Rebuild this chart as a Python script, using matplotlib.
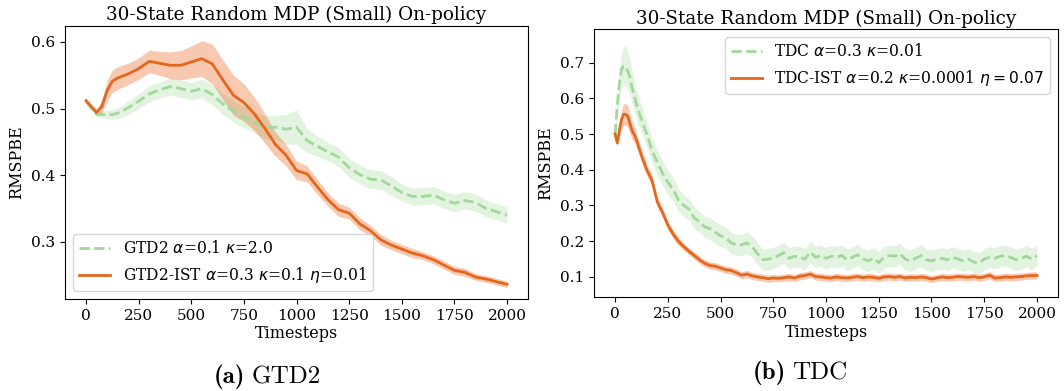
import numpy as np
import matplotlib
matplotlib.use("Agg")
from matplotlib import pyplot as plt

plt.rcParams['font.family'] = 'DejaVu Serif'
plt.rcParams['mathtext.fontset'] = 'dejavusans'

# (a) GTD2 panel
t_left = [0, 25, 50, 75, 100, 125, 150] + list(range(200, 2001, 50))
gtd2 = [0.511, 0.500, 0.492, 0.491, 0.491, 0.491, 0.493,
        0.501, 0.511, 0.522, 0.528, 0.533, 0.530, 0.526, 0.530, 0.521, 0.507,
        0.496, 0.487, 0.479, 0.472, 0.472, 0.469, 0.472, 0.452, 0.443, 0.435,
        0.427, 0.411, 0.401, 0.394, 0.393, 0.384, 0.374, 0.368, 0.368, 0.370,
        0.363, 0.358, 0.362, 0.359, 0.350, 0.345, 0.340]
gtd2_sd = [0.002, 0.003, 0.004, 0.005, 0.006, 0.007, 0.008,
           0.010, 0.011, 0.012, 0.012, 0.013, 0.013, 0.013, 0.014, 0.015, 0.016,
           0.016, 0.016, 0.016, 0.017, 0.018, 0.022, 0.026, 0.018, 0.015, 0.014,
           0.014, 0.014, 0.014, 0.014, 0.014, 0.014, 0.013, 0.013, 0.013, 0.013,
           0.013, 0.013, 0.013, 0.013, 0.013, 0.012, 0.012]
gtd2_ist = [0.512, 0.503, 0.494, 0.503, 0.527, 0.541, 0.546,
            0.552, 0.560, 0.571, 0.568, 0.565, 0.565, 0.570, 0.575, 0.567, 0.543,
            0.520, 0.509, 0.492, 0.470, 0.446, 0.430, 0.407, 0.402, 0.382, 0.363,
            0.348, 0.343, 0.327, 0.317, 0.303, 0.295, 0.289, 0.283, 0.279, 0.273,
            0.265, 0.257, 0.254, 0.247, 0.244, 0.240, 0.236]
gtd2_ist_sd = [0.002, 0.004, 0.005, 0.010, 0.015, 0.017, 0.017,
               0.016, 0.016, 0.017, 0.018, 0.020, 0.022, 0.024, 0.027, 0.030, 0.030,
               0.030, 0.028, 0.025, 0.022, 0.018, 0.016, 0.014, 0.012, 0.011, 0.010,
               0.010, 0.009, 0.009, 0.008, 0.008, 0.007, 0.007, 0.007, 0.006, 0.006,
               0.006, 0.006, 0.006, 0.005, 0.005, 0.005, 0.005]

# (b) TDC panel
t_right = list(range(0, 100, 10)) + list(range(100, 2001, 25))
tdc = [0.500, 0.580, 0.640, 0.680, 0.690, 0.690, 0.675, 0.660, 0.630, 0.610,
       0.585, 0.540, 0.500, 0.455, 0.420, 0.390, 0.365, 0.345, 0.315,
       0.300, 0.290, 0.265, 0.255, 0.240, 0.235, 0.225, 0.215, 0.210, 0.195,
       0.190, 0.190, 0.195, 0.185, 0.165, 0.148, 0.150, 0.153, 0.160, 0.168,
       0.152, 0.158, 0.155, 0.150, 0.170, 0.155, 0.160, 0.152, 0.158, 0.155,
       0.160, 0.148, 0.155, 0.162, 0.150, 0.145, 0.152, 0.140, 0.155, 0.160,
       0.158, 0.165, 0.150, 0.145, 0.152, 0.160, 0.148, 0.145, 0.150, 0.152,
       0.148, 0.155, 0.150, 0.145, 0.150, 0.142, 0.138, 0.150, 0.155, 0.152,
       0.158, 0.160, 0.155, 0.148, 0.152, 0.158, 0.150, 0.160]
tdc_sd = ([0.010, 0.030, 0.045, 0.050, 0.055, 0.055, 0.050, 0.050, 0.045, 0.045]
          + [0.040, 0.038, 0.036, 0.035, 0.035, 0.035, 0.034, 0.033, 0.032]
          + [0.030] * 68)
tdc_ist = [0.500, 0.475, 0.510, 0.540, 0.555, 0.555, 0.550, 0.530, 0.510, 0.500,
           0.485, 0.440, 0.400, 0.370, 0.310, 0.280, 0.245, 0.220, 0.200,
           0.185, 0.172, 0.160, 0.148, 0.138, 0.132, 0.130, 0.125, 0.120, 0.118,
           0.112, 0.105, 0.108, 0.103, 0.100, 0.098, 0.095, 0.097, 0.096, 0.098,
           0.100, 0.097, 0.102, 0.104, 0.108, 0.101, 0.100, 0.098, 0.097, 0.100,
           0.098, 0.097, 0.099, 0.101, 0.098, 0.100, 0.099, 0.096, 0.100, 0.101,
           0.099, 0.101, 0.097, 0.099, 0.098, 0.100, 0.098, 0.094, 0.097, 0.100,
           0.098, 0.099, 0.101, 0.100, 0.099, 0.101, 0.098, 0.100, 0.105, 0.097,
           0.098, 0.100, 0.099, 0.100, 0.101, 0.103, 0.104, 0.104]
tdc_ist_sd = ([0.004, 0.010, 0.020, 0.028, 0.030, 0.030, 0.030, 0.028, 0.025, 0.022]
              + [0.020, 0.018, 0.016, 0.015, 0.014, 0.013, 0.012, 0.012, 0.012]
              + [0.010] * 68)

title = '30-State Random MDP (Small) On-policy'
green = '#a1d99b'
orange = '#e6661e'

fig = plt.figure(figsize=(10.64, 3.91), dpi=100)
ax1 = fig.add_axes([0.0611, 0.2353, 0.4352, 0.6982])
ax2 = fig.add_axes([0.5583, 0.2396, 0.4361, 0.6854])

panels = [
    (ax1, t_left, gtd2, gtd2_sd, gtd2_ist, gtd2_ist_sd,
     r'GTD2 $\alpha$=0.1 $\kappa$=2.0',
     r'GTD2-IST $\alpha$=0.3 $\kappa$=0.1 $\eta$=0.01',
     'lower left', (0.214, 0.624)),
    (ax2, t_right, tdc, tdc_sd, tdc_ist, tdc_ist_sd,
     r'TDC $\alpha$=0.3 $\kappa$=0.01',
     r'TDC-IST $\alpha$=0.2 $\kappa$=0.0001 $\eta=0.07$',
     'upper right', (0.043, 0.793)),
]
for ax, t, base, base_sd, ist, ist_sd, lab1, lab2, loc, ylim in panels:
    t = np.array(t)
    base, base_sd = np.array(base), np.array(base_sd)
    ist, ist_sd = np.array(ist), np.array(ist_sd)
    ax.fill_between(t, base - base_sd, base + base_sd, color=green, alpha=0.3, lw=0)
    ax.plot(t, base, '--', color=green, lw=2, label=lab1)
    ax.fill_between(t, ist - ist_sd, ist + ist_sd, color=orange, alpha=0.35, lw=0)
    ax.plot(t, ist, '-', color=orange, lw=2, label=lab2)
    ax.set_xticks(range(0, 2001, 250))
    ax.set_xlim(-100, 2100)
    ax.set_ylim(*ylim)
    ax.set_title(title, fontsize=13.2, pad=4)
    ax.set_xlabel('Timesteps', fontsize=11.5, labelpad=2)
    ax.set_ylabel('RMSPBE', fontsize=11.5)
    ax.tick_params(labelsize=11)
    ax.legend(loc=loc, fontsize=11.2)

ax2.set_yticks([0.1, 0.2, 0.3, 0.4, 0.5, 0.6, 0.7])
ax1.set_yticks([0.3, 0.4, 0.5, 0.6])

fig.text(0.2305, 0.02, '(a)', family='cmb10', fontsize=18, ha='right')
fig.text(0.2365, 0.02, 'GTD2', family='cmr10', fontsize=18, ha='left')
fig.text(0.7385, 0.03, '(b)', family='cmb10', fontsize=18, ha='right')
fig.text(0.7445, 0.03, 'TDC', family='cmr10', fontsize=18, ha='left')

fig.savefig('out.png', dpi=100)
